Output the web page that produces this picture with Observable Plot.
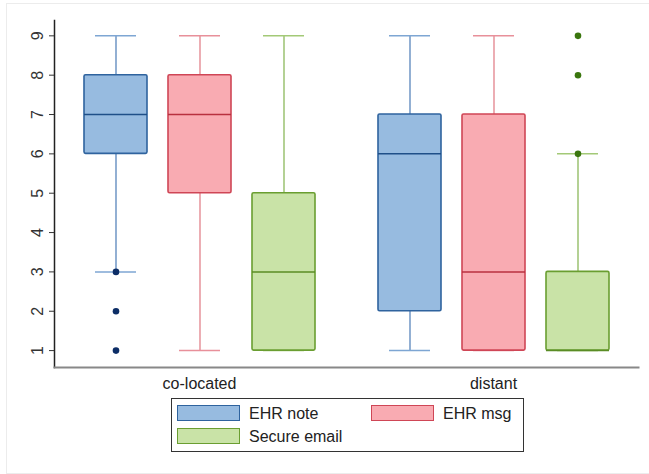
<!DOCTYPE html>
<html>
<head>
<meta charset="utf-8">
<script src="https://cdn.jsdelivr.net/npm/d3@7"></script>
<script src="https://cdn.jsdelivr.net/npm/@observablehq/plot@0.6"></script>
<style>
  body { margin: 0; background: #fff; font-family: "Liberation Sans", Arial, sans-serif; }
  #wrap { position: relative; width: 649px; height: 474px; overflow: hidden; }
  #frame { position: absolute; left: 6px; top: 3px; width: 643px; height: 471px; box-sizing: border-box; border: 1px solid #ececec; border-right: none; pointer-events: none; }
  #chart { position: absolute; left: 0; top: 0; }
  #legend { position: absolute; left: 171px; top: 398px; width: 353px; height: 54px; box-sizing: border-box; border: 1.5px solid #333; background: #fff; }
  .sw { position: absolute; width: 63px; height: 16px; box-sizing: border-box; border: 1.5px solid; }
  .lt { position: absolute; font-size: 16px; color: #222; line-height: 16px; }
</style>
</head>
<body>
<div id="wrap">
  <div id="frame"></div>
  <div id="chart"></div>
  <div id="legend"></div>
</div>
<script>
// ---- data ----
const groups = ["co-located", "distant"];
const series = ["EHR note", "EHR msg", "Secure email"];
const yTicks = [1, 2, 3, 4, 5, 6, 7, 8, 9];

const boxGroup    = ["co-located", "co-located", "co-located", "distant", "distant", "distant"];
const boxSeries   = ["EHR note", "EHR msg", "Secure email", "EHR note", "EHR msg", "Secure email"];
const whiskerLow  = [3, 1, 1, 1, 1, 1];
const q1          = [6, 5, 1, 2, 1, 1];
const median      = [7, 7, 3, 6, 3, 1];
const q3          = [8, 8, 5, 7, 7, 3];
const whiskerHigh = [9, 9, 9, 9, 9, 6];

const outlierGroup  = ["co-located", "co-located", "co-located", "distant", "distant", "distant"];
const outlierSeries = ["EHR note", "EHR note", "EHR note", "Secure email", "Secure email", "Secure email"];
const outlierValue  = [3, 2, 1, 6, 8, 9];

// ---- styles ----
const fillColor    = {"EHR note": "#97bbe0", "EHR msg": "#f9abb2", "Secure email": "#c9e3a7"};
const strokeColor  = {"EHR note": "#2f639e", "EHR msg": "#cf4656", "Secure email": "#6a9e31"};
const medianColor  = {"EHR note": "#1f4f88", "EHR msg": "#b8303f", "Secure email": "#5a8c25"};
const whiskerColor = {"EHR note": "#4a7bb6", "EHR msg": "#df7781", "Secure email": "#82b24d"};
const capColor     = {"EHR note": "#7ea6d3", "EHR msg": "#e8909a", "Secure email": "#a3c977"};
const dotColor     = {"EHR note": "#0c2d66", "EHR msg": "#a02030", "Secure email": "#3a760e"};

const boxes = boxGroup.map((g, i) => ({
  group: g, series: boxSeries[i], lo: whiskerLow[i], q1: q1[i], med: median[i], q3: q3[i], hi: whiskerHigh[i]
}));
const outliers = outlierGroup.map((g, i) => ({group: g, series: outlierSeries[i], value: outlierValue[i]}));

const chart = Plot.plot({
  width: 649,
  height: 396,
  marginLeft: 53,
  marginRight: 10,
  marginTop: 20,
  marginBottom: 29,
  style: {fontFamily: "Liberation Sans, Arial, sans-serif", background: "transparent"},
  fx: {domain: groups, paddingInner: 0.012, paddingOuter: 0, label: null},
  x: {domain: series, paddingInner: 0.25, paddingOuter: 0.35, axis: null},
  y: {domain: [0.57, 9.39], axis: null},
  marks: [
    Plot.frame({anchor: "left", facet: "super", stroke: "#222", strokeWidth: 1.5}),
    Plot.frame({anchor: "bottom", facet: "super", stroke: "#888", strokeWidth: 2}),
    Plot.axisY({ticks: yTicks, tickFormat: d => String(d), tickRotate: -90, tickSize: 5,
                tickPadding: 7, fontSize: 16, label: null, stroke: "#333", color: "#333"}),
    Plot.axisFx({anchor: "bottom", tickSize: 0, tickPadding: 10, fontSize: 16, label: null, color: "#222"}),
    // whiskers
    Plot.ruleX(boxes, {fx: "group", x: "series", y1: "lo", y2: "hi",
                       stroke: d => whiskerColor[d.series], strokeWidth: 1.2}),
    Plot.tickY(boxes, {fx: "group", x: "series", y: "lo", stroke: d => capColor[d.series],
                       strokeWidth: 1.5, insetLeft: 11, insetRight: 11}),
    Plot.tickY(boxes, {fx: "group", x: "series", y: "hi", stroke: d => capColor[d.series],
                       strokeWidth: 1.5, insetLeft: 11, insetRight: 11}),
    // boxes
    Plot.barY(boxes, {fx: "group", x: "series", y1: "q1", y2: "q3",
                      fill: d => fillColor[d.series], stroke: d => strokeColor[d.series],
                      strokeWidth: 1.6, rx: 1.5}),
    // medians
    Plot.tickY(boxes, {fx: "group", x: "series", y: "med", stroke: d => medianColor[d.series], strokeWidth: 1.5}),
    // outliers
    Plot.dot(outliers, {fx: "group", x: "series", y: "value", r: 3.3,
                        fill: d => dotColor[d.series], stroke: "none"})
  ]
});
document.getElementById("chart").appendChild(chart);

// ---- legend ----
const legend = document.getElementById("legend");
const legendPos = {
  "EHR note":     {sx: 5, sy: 6, tx: 77},
  "EHR msg":      {sx: 199, sy: 6, tx: 271},
  "Secure email": {sx: 5, sy: 29, tx: 77}
};
series.forEach(s => {
  const p = legendPos[s];
  const sw = document.createElement("div");
  sw.className = "sw";
  sw.style.left = p.sx + "px";
  sw.style.top = p.sy + "px";
  sw.style.background = fillColor[s];
  sw.style.borderColor = strokeColor[s];
  legend.appendChild(sw);
  const t = document.createElement("div");
  t.className = "lt";
  t.style.left = p.tx + "px";
  t.style.top = (p.sy + 1) + "px";
  t.textContent = s;
  legend.appendChild(t);
});
</script>
</body>
</html>
